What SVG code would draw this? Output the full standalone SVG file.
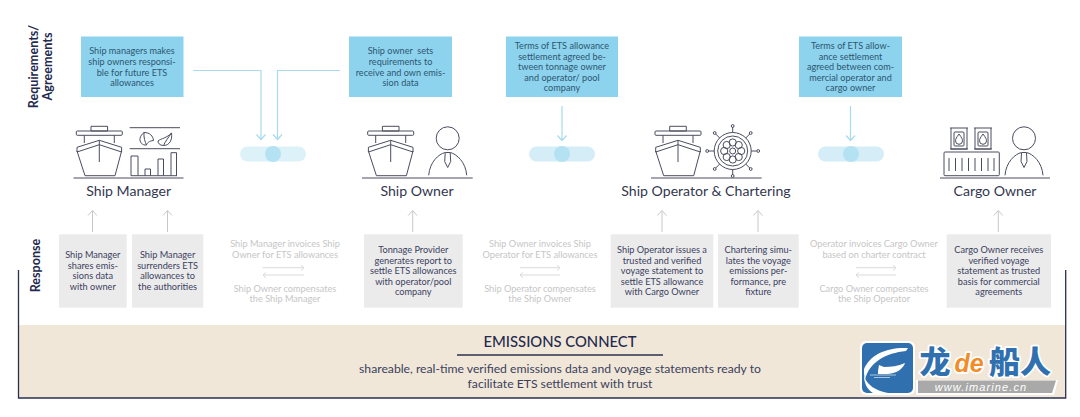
<svg xmlns="http://www.w3.org/2000/svg" xmlns:xlink="http://www.w3.org/1999/xlink" width="1080" height="417" viewBox="0 0 1080 417">
<style>
text{font-family:"Lato","Open Sans","Liberation Sans","Noto Sans CJK SC",sans-serif;text-anchor:middle}
.req{fill:#8dd3ee}
.resp{fill:#ebebeb}
.rt{font-size:9.15px;fill:#2e566f}
.gt{font-size:9.2px;fill:#3b4160}
.lt{font-size:9.2px;fill:#c6c6c6}
.nm{font-size:14.1px;fill:#33374f}
.side{font-size:12.6px;font-weight:700;fill:#23294d}
.ic{fill:none;stroke:#4a4d5e;stroke-width:1;stroke-linejoin:round}
.base{stroke:#4a4d5e;stroke-width:1}
.bl{fill:none;stroke:#a6dcee;stroke-width:1.2}
.up{fill:none;stroke:#c8c8c8;stroke-width:1}
.dbl{fill:none;stroke:#d0d0d0;stroke-width:.8}
.frame{stroke:#2a3050;stroke-width:1.3;fill:none}
.wm{stroke:#fff;stroke-width:3.5px;paint-order:stroke;stroke-linejoin:round}
</style>
<defs>
<g id="ship" class="ic">
<rect x="-8.3" y="-51.7" width="16.6" height="4.7"/>
<rect x="-23" y="-47" width="46" height="4.3" rx="1"/>
<path d="M-15-42.7V-35M15-42.7V-35"/>
<path d="M-22.3-30.7L0-37.7L22.3-30.7V-26L0-33.3L-22.3-26Z"/>
<path d="M-22.3-27L-14.3-2.3H15.7L22.3-27"/>
<path d="M0-37.700V-16"/>
</g>
<g id="person" class="ic">
<circle cx="0" cy="-39.7" r="11.5"/>
<path d="M-19-2.7C-18-16-9-24-2.5-25.5H2.5C9-24 18-16 19-2.7"/>
<path d="M-2.5-25L-3-16.5L0-10.5L3-16.5L2.5-25"/>
</g>
<g id="barrel" class="ic">
<path d="M0 2H18M1 2V23H17V2M0 23H18"/>
<rect x="4" y="6" width="10" height="14" rx="1"/>
<path d="M9 8C6.300 11.500 5.500 13.300 5.500 14.800A3.500 3.500 0 0 0 12.500 14.800C12.500 13.300 11.700 11.500 9 8Z"/>
</g>
</defs>

<g id="connectors">
<path class="bl" d="M193 70.5H261V139M340 70.5H277.5V139"/>
<path class="bl" d="M256.5 134.5L261 139.5L265.5 134.5M273 134.5L277.5 139.5L282 134.5"/>
<path class="bl" d="M562 106V140M557.5 135.5L562 140.5L566.5 135.5"/>
<path class="bl" d="M850.5 106V140M846 135.5L850.5 140.5L855 135.5"/>
<path class="up" d="M92.5 232V211M88 215.5L92.5 210.5L97 215.5M167.5 232V211M163 215.5L167.5 210.5L172 215.5M412.7 232V211M408.2 215.5L412.7 210.5L417.2 215.5M662 232V211M657.5 215.5L662 210.5L666.5 215.5M758 232V211M753.5 215.5L758 210.5L762.5 215.5M998.3 232V211M993.8 215.5L998.3 210.5L1002.8 215.5"/>
<path class="dbl" d="M262.7 267.7H303.5M301 265L304 267.7L301 270.5M304 275H263.5M266 272.5L263 275L266 278"/>
<path class="dbl" d="M520 267.7H559.5M557 265L560 267.7L557 270.5M560 275H520.5M523 272.5L520 275L523 278"/>
<path class="dbl" d="M856 267.7H895.5M893 265L896 267.7L893 270.5M896 275H856.5M859 272.5L856 275L859 278"/>
</g>

<g id="side-labels">
<text class="side" transform="translate(37.5 66.5) rotate(-90)">Requirements/</text>
<text class="side" transform="translate(52 66.5) rotate(-90)">Agreements</text>
<text class="side" transform="translate(40 265.5) rotate(-90)">Response</text>
</g>

<g id="req-1"><rect class="req" x="81" y="36.5" width="102.5" height="60.5"/>
<text class="rt" x="132" y="54">Ship managers makes</text><text class="rt" x="132" y="65">ship owners responsi-</text><text class="rt" x="132" y="75.5">ble for future ETS</text><text class="rt" x="132" y="85.5">allowances</text></g>
<g id="req-2"><rect class="req" x="349" y="36.5" width="103" height="60.5"/>
<text class="rt" x="400.5" y="54" xml:space="preserve">Ship owner  sets</text><text class="rt" x="400.5" y="65">requirements to</text><text class="rt" x="400.5" y="75.5">receive and own emis-</text><text class="rt" x="400.5" y="85.5">sion data</text></g>
<g id="req-3"><rect class="req" x="506" y="36.5" width="112" height="60.5"/>
<text class="rt" x="562" y="49">Terms of ETS allowance</text><text class="rt" x="562" y="59.5">settlement agreed be-</text><text class="rt" x="562" y="70">tween tonnage owner</text><text class="rt" x="562" y="80.5">and operator/ pool</text><text class="rt" x="562" y="91">company</text></g>
<g id="req-4"><rect class="req" x="799" y="36.5" width="103" height="60.5"/>
<text class="rt" x="850.5" y="49">Terms of ETS allow-</text><text class="rt" x="850.5" y="59.5">ance settlement</text><text class="rt" x="850.5" y="70">agreed between com-</text><text class="rt" x="850.5" y="80.5">mercial operator and</text><text class="rt" x="850.5" y="91">cargo owner</text></g>

<g id="pill-1"><rect x="240" y="146.5" width="66" height="15" rx="7.5" fill="#dcf1f8"/><circle cx="273" cy="154" r="8" fill="#b4e2f2"/></g>
<g id="pill-2"><rect x="529" y="146.5" width="66" height="15" rx="7.5" fill="#d4edf6"/><circle cx="562" cy="154" r="8" fill="#b4e2f2"/></g>
<g id="pill-3"><rect x="818" y="146.5" width="66" height="15" rx="7.5" fill="#d4edf6"/><circle cx="851" cy="154" r="8" fill="#b4e2f2"/></g>

<g id="ship-manager">
<use xlink:href="#ship" href="#ship" x="99.3" y="178"/>
<path class="base" d="M73.5 178H183.5M129.7 127.7H180M129.7 148.700H180"/>
<path class="ic" d="M131 175.7H177M131 175.7V156H138V175.7M145 175.7V169H150.5V175.7M158 175.7V159H163.5V175.700M171 175.700V152.700H176.500V175.700"/>
<path class="ic" d="M144 132.500C150 132.500 153 136 153.500 140.500C149 141 147 143 146.500 145C142 145.500 139.500 142 140 138.500C140.500 136 142 134 144 132.500ZM144 132.500C143.500 137 145 142 146.500 145"/>
<path class="ic" d="M171.500 133C172.500 140 169.500 145.500 163.500 145.500C160 145.500 158 143.500 158 141C161 138.500 167 138 171.500 133ZM163.500 145.500C165 142 168 138 171.500 133"/>
<text class="nm" x="128.7" y="195.500">Ship Manager</text>
</g>
<g id="ship-owner">
<use xlink:href="#ship" href="#ship" x="390.7" y="178"/>
<use xlink:href="#person" href="#person" x="447.7" y="178"/>
<path class="base" d="M362 178H472.700"/>
<text class="nm" x="417" y="195.500">Ship Owner</text>
</g>
<g id="ship-operator">
<use xlink:href="#ship" href="#ship" x="678" y="178"/>
<g class="ic" transform="translate(732.700 151)">
<circle r="18.500"/><circle r="15"/><circle r="3"/>
<circle cy="-8.500" r="3.600"/><circle cy="8.500" r="3.600"/><circle cx="-8.500" r="3.600"/><circle cx="8.500" r="3.600"/>
<circle cx="-6" cy="-6" r="3.600"/><circle cx="6" cy="-6" r="3.600"/><circle cx="-6" cy="6" r="3.600"/><circle cx="6" cy="6" r="3.600"/>
<path d="M0-18.500V-24M0 18.500V24M-18.500 0H-24M18.500 0H24M-13-13L-17-17M13-13L17-17M-13 13L-17 17M13 13L17 17"/>
<circle cy="-25" r="1.400"/><circle cy="25" r="1.400"/><circle cx="-25.500" r="1.400"/><circle cx="25.500" r="1.400"/>
<circle cx="-18" cy="-18" r="1.400"/><circle cx="18" cy="-18" r="1.400"/><circle cx="-18" cy="18" r="1.400"/><circle cx="18" cy="18" r="1.400"/>
</g>
<path class="base" d="M651 178H761.700"/>
<text class="nm" x="706" y="195.500">Ship Operator &amp; Chartering</text>
</g>
<g id="cargo-owner">
<use xlink:href="#barrel" href="#barrel" x="950" y="126"/>
<use xlink:href="#barrel" href="#barrel" x="974" y="126"/>
<g class="ic"><rect x="944" y="152" width="55.300" height="23.700" rx="1"/>
<path d="M949 158V171M955.500 158V171M962 158V171M968.500 158V171M975 158V171M981.500 158V171M988 158V171M994 158V171"/></g>
<use xlink:href="#person" href="#person" x="1024" y="178"/>
<path class="base" d="M940 178H1050"/>
<text class="nm" x="995" y="195.500">Cargo Owner</text>
</g>

<g id="resp-1"><rect class="resp" x="59" y="234.300" width="67.700" height="73.400"/>
<text class="gt" x="92.800" y="258">Ship Manager</text><text class="gt" x="92.800" y="268.500">shares emis-</text><text class="gt" x="92.800" y="279">sions data</text><text class="gt" x="92.800" y="289.500">with owner</text></g>
<g id="resp-2"><rect class="resp" x="132" y="234.300" width="71.300" height="73.400"/>
<text class="gt" x="167.600" y="258">Ship Manager</text><text class="gt" x="167.600" y="268.500">surrenders ETS</text><text class="gt" x="167.600" y="279">allowances to</text><text class="gt" x="167.600" y="289.500">the authorities</text></g>
<g id="resp-3"><rect class="resp" x="364" y="234.300" width="98.700" height="73.400"/>
<text class="gt" x="413.300" y="253">Tonnage Provider</text><text class="gt" x="413.300" y="263.500">generates report to</text><text class="gt" x="413.300" y="274">settle ETS allowances</text><text class="gt" x="413.300" y="284.500">with operator/pool</text><text class="gt" x="413.300" y="295">company</text></g>
<g id="resp-4"><rect class="resp" x="610.700" y="234.300" width="102.600" height="73.400"/>
<text class="gt" x="662" y="253">Ship Operator issues a</text><text class="gt" x="662" y="263.500">trusted and verified</text><text class="gt" x="662" y="274">voyage statement to</text><text class="gt" x="662" y="284.500">settle ETS allowance</text><text class="gt" x="662" y="295">with Cargo Owner</text></g>
<g id="resp-5"><rect class="resp" x="718" y="234.300" width="80.700" height="73.400"/>
<text class="gt" x="758.300" y="253">Chartering simu-</text><text class="gt" x="758.300" y="263.500">lates the voyage</text><text class="gt" x="758.300" y="274">emissions per-</text><text class="gt" x="758.300" y="284.500">formance, pre</text><text class="gt" x="758.300" y="295">fixture</text></g>
<g id="resp-6"><rect class="resp" x="946.700" y="234.300" width="104.300" height="73.400"/>
<text class="gt" x="998.800" y="253">Cargo Owner receives</text><text class="gt" x="998.800" y="263.500">verified voyage</text><text class="gt" x="998.800" y="274">statement as trusted</text><text class="gt" x="998.800" y="284.500">basis for commercial</text><text class="gt" x="998.800" y="295">agreements</text></g>

<g id="flow-1"><text class="lt" x="285" y="247">Ship Manager invoices Ship</text><text class="lt" x="285" y="257.500">Owner for ETS allowances</text><text class="lt" x="285" y="291.500">Ship Owner compensates</text><text class="lt" x="285" y="302">the Ship Manager</text></g>
<g id="flow-2"><text class="lt" x="540" y="247">Ship Owner invoices Ship</text><text class="lt" x="540" y="257.500">Operator for ETS allowances</text><text class="lt" x="540" y="291.500">Ship Operator compensates</text><text class="lt" x="540" y="302">the Ship Owner</text></g>
<g id="flow-3"><text class="lt" x="874" y="247">Operator invoices Cargo Owner</text><text class="lt" x="874" y="257.500">based on charter contract</text><text class="lt" x="874" y="291.500">Cargo Owner compensates</text><text class="lt" x="874" y="302">the Ship Operator</text></g>

<g id="emissions-connect">
<rect x="18.500" y="325" width="1047" height="73" fill="#f1e7d8"/>
<path class="frame" d="M18.500 270V398H1065.700V270"/>
<text x="560" y="346.500" font-size="14.800" font-weight="500" fill="#23294d">EMISSIONS CONNECT</text>
<path d="M457 355H663" stroke="#2a3050" stroke-width="1.300"/>
<text x="560" y="373" font-size="12.200" fill="#3a3f5c">shareable, real-time verified emissions data and voyage statements ready to</text>
<text x="560" y="388" font-size="12.200" fill="#3a3f5c">facilitate ETS settlement with trust</text>
</g>

<g id="watermark">
<rect x="860" y="341" width="55" height="54" rx="6" fill="#fff"/>
<path d="M916 380H1058L1054 395H916Z" fill="#fff"/>
<rect x="862" y="343" width="51" height="50" rx="5" fill="#3170ae"/>
<path d="M908 348C886 347 870 355 864 369C864 373 864 376 865 380C869 362 886 353 906 351Z" fill="#fff"/>
<path d="M864 376C867 385 876 391 888 393H873C868 390 864 384 864 376Z" fill="#fff"/>
<path d="M878 371L879 365L884 367C891 367 898 366 905 363C903 369 897 373 888 374H878Z" fill="#fff"/>
<path d="M870 375H896M874 377.500H890" stroke="#fff" stroke-width=".6"/>
<path d="M918 380.500H1056L1052 393H918Z" fill="#a9a9a9"/>
<text class="wm" x="935" y="373" font-size="31" font-weight="900" fill="#3170ae" style="font-family:'Noto Sans CJK SC',sans-serif">龙</text>
<text class="wm" x="969" y="372" font-size="25" font-weight="700" font-style="italic" fill="#f28c28" style="font-family:'Liberation Sans',sans-serif">de</text>
<text class="wm" x="1020" y="373" font-size="31" font-weight="900" fill="#3170ae" style="font-family:'Noto Sans CJK SC',sans-serif">船人</text>
<text x="981" y="391" font-size="11" font-style="italic" letter-spacing="1.100" fill="#fff" style="font-family:'Liberation Sans',sans-serif">www.imarine.cn</text>
</g>
</svg>
